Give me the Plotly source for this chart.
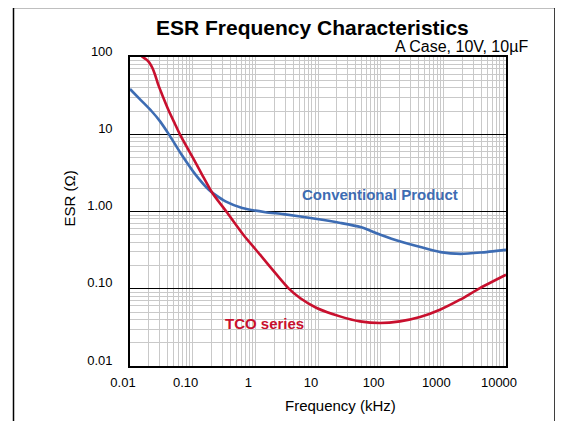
import plotly.graph_objects as go

# ---- data ----
freq_conv = [0.01, 0.015, 0.022, 0.03, 0.042, 0.068, 0.111, 0.181, 0.231, 0.334, 0.617,
             1.45, 2.81, 9.7, 22.9, 47.6, 99, 207, 432, 901, 1880, 3920, 10000]
esr_conv = [38.5, 27.5, 20.0, 14.8, 9.9, 5.3, 3.0, 1.91, 1.64, 1.35, 1.11,
            0.98, 0.925, 0.80, 0.71, 0.628, 0.50, 0.408, 0.346, 0.298, 0.283, 0.294, 0.319]

freq_tco = [0.0154, 0.018, 0.0194, 0.0209, 0.0229, 0.0251, 0.028, 0.0321, 0.0409, 0.0522,
            0.0628, 0.0966, 0.139, 0.206, 0.349, 0.643, 1.19, 2.19, 3.36, 5.16, 9.53, 22.4,
            46.8, 97.7, 203, 424, 883, 1844, 3846, 10000]
esr_tco = [102, 93.4, 88.2, 81.9, 71.6, 59.0, 44.5, 33.5, 20.8, 13.6,
           9.89, 5.27, 3.08, 1.74, 0.986, 0.501, 0.276, 0.152, 0.102, 0.0759, 0.0564, 0.0439,
           0.0378, 0.036, 0.0378, 0.043, 0.0535, 0.0721, 0.102, 0.152]

x_tickvals = [0.01, 0.1, 1, 10, 100, 1000, 10000]
x_ticktext = ["0.01", "0.10", "1", "10", "100", "1000", "10000"]
y_tickvals = [0.01, 0.1, 1, 10, 100]
y_ticktext = ["0.01", "0.10", "1.00", "10", "100"]

series_names = ["Conventional Product", "TCO series"]
title_text = "ESR Frequency Characteristics"
subtitle_text = "A Case, 10V, 10µF"

# ---- styling ----
BLUE = "#3d6cb3"
RED = "#c8102e"
GRID = "#c9c9c9"
FONT = "Liberation Sans, Arial, Helvetica, sans-serif"

PAGE_OFF = 8                      # default body margin of the html page
W, H = 563 - PAGE_OFF, 421 - PAGE_OFF
L, R, T, B = 130 - PAGE_OFF, 57, 57 - PAGE_OFF, 55
pw, ph = W - L - R, H - T - B


def px(x):   # x given in page pixels
    return (x - PAGE_OFF - L) / pw


def py(y):   # y given in page pixels
    return (H - B - (y - PAGE_OFF)) / ph


def minor_vals(lo, hi):
    vals = []
    e = lo
    while e < hi:
        for m in range(2, 10):
            vals.append(m * 10 ** e)
        e += 1
    return vals


fig = go.Figure()
fig.add_trace(go.Scatter(x=freq_conv, y=esr_conv, mode="lines", name=series_names[0],
                         line=dict(color=BLUE, width=2.6, shape="spline", smoothing=0.6)))
fig.add_trace(go.Scatter(x=freq_tco, y=esr_tco, mode="lines", name=series_names[1],
                         line=dict(color=RED, width=2.6, shape="spline", smoothing=0.6)))

fig.update_layout(
    width=W, height=H,
    margin=dict(l=L, r=R, t=T, b=B),
    paper_bgcolor="white", plot_bgcolor="white",
    showlegend=False,
    font=dict(family=FONT, color="black", size=13),
)

fig.update_xaxes(
    type="log", range=[-2, 4],
    tickvals=x_tickvals, ticktext=x_ticktext,
    showgrid=True, gridcolor=GRID, gridwidth=1,
    minor=dict(tickvals=minor_vals(-2, 4), showgrid=True, gridcolor=GRID, gridwidth=1),
    showline=True, linecolor="black", linewidth=1.6, mirror=True,
    ticks="", ticklabelstandoff=4, ticklabelshift=-7,
    tickfont=dict(size=13, family=FONT),
    zeroline=False,
)
fig.update_yaxes(
    type="log", range=[-2, 2],
    tickvals=y_tickvals, ticktext=y_ticktext,
    showgrid=True, gridcolor="black", gridwidth=1.1,
    minor=dict(tickvals=minor_vals(-2, 2), showgrid=True, gridcolor=GRID, gridwidth=1),
    showline=True, linecolor="black", linewidth=1.6, mirror=True,
    ticks="", ticklabelstandoff=13, ticklabelshift=-6,
    tickfont=dict(size=13, family=FONT),
    zeroline=False,
)

annos = [
    dict(text="<b>" + title_text + "</b>", x=px(312.5), y=py(27), font=dict(size=21),
         xanchor="center", yanchor="middle"),
    dict(text=subtitle_text, x=px(530), y=py(46.5), font=dict(size=16),
         xanchor="right", yanchor="middle"),
    dict(text="Frequency (kHz)", x=px(340.5), y=py(405), font=dict(size=15),
         xanchor="center", yanchor="middle"),
    dict(text="ESR (Ω)", x=px(68.5), y=py(199), font=dict(size=15), textangle=-90,
         xanchor="center", yanchor="middle"),
    dict(text="<b>" + series_names[0] + "</b>", x=px(380), y=py(194.5),
         font=dict(size=15, color=BLUE), xanchor="center", yanchor="middle"),
    dict(text="<b>" + series_names[1] + "</b>", x=px(264.5), y=py(323.5),
         font=dict(size=15, color=RED), xanchor="center", yanchor="middle"),
]
for a in annos:
    a.update(xref="paper", yref="paper", showarrow=False)
fig.update_layout(annotations=annos)

# outer frame (open at the bottom of the page)
fig.add_shape(type="rect", xref="paper", yref="paper",
              x0=px(13.5), x1=px(555), y0=py(440), y1=py(7.5),
              line=dict(color="black", width=1.5), fillcolor="rgba(0,0,0,0)", layer="below")

fig.write_html("out.html")
